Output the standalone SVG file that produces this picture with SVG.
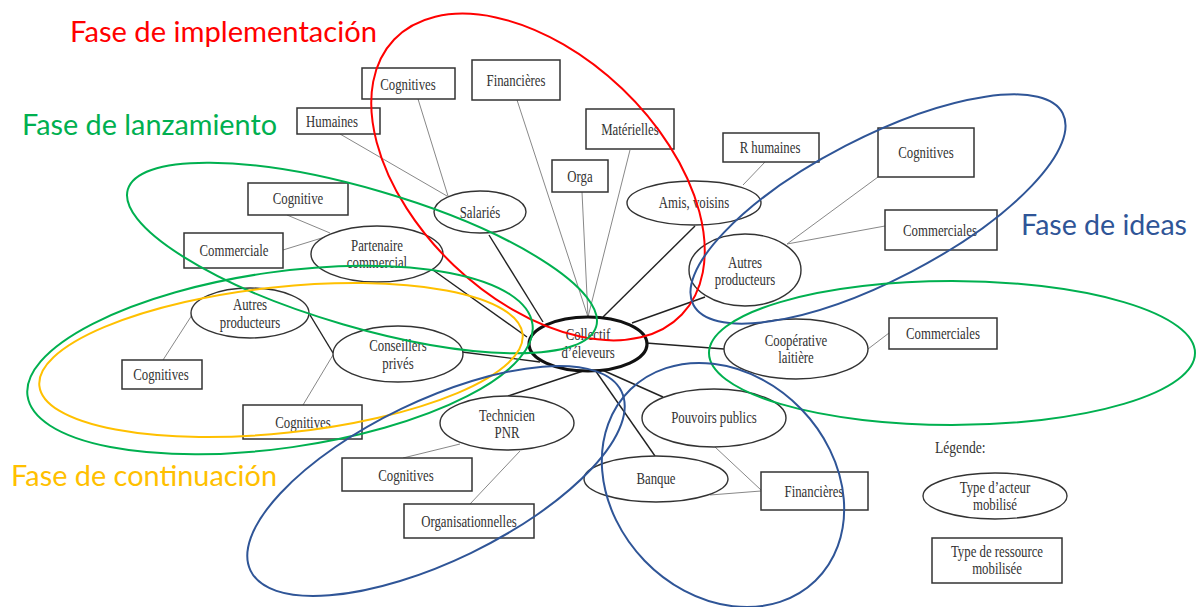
<svg xmlns="http://www.w3.org/2000/svg" width="1196" height="607" viewBox="0 0 1196 607">
<style>
.box{fill:#fff;stroke:#333;stroke-width:1.5}
.act{fill:#fff;stroke:#333;stroke-width:1.4}
.main{fill:#fff;stroke:#111;stroke-width:3.2}
.t{font-family:"Liberation Serif","Times New Roman",serif;font-size:16px;fill:#333;text-anchor:middle}
.lg{font-family:"Liberation Serif","Times New Roman",serif;font-size:17px;fill:#333}
.lk{stroke:#222;stroke-width:1.4}
.rl{stroke:#888;stroke-width:1}
.ph{fill:none;stroke-width:2}
.ttl{font-family:Lato,"Open Sans",sans-serif;font-size:29px}
</style>
<rect width="1196" height="607" fill="#fff"/>
<g id="connectors">
<line class="lk" x1="489" y1="235" x2="543" y2="322"/>
<line class="lk" x1="433" y1="270" x2="527" y2="337"/>
<line class="lk" x1="462" y1="352" x2="540" y2="362"/>
<line class="lk" x1="310" y1="315" x2="333" y2="353"/>
<line class="lk" x1="508" y1="396" x2="583" y2="371"/>
<line class="lk" x1="655" y1="456" x2="595" y2="370"/>
<line class="lk" x1="663" y1="397" x2="600" y2="369"/>
<line class="lk" x1="646" y1="343" x2="724" y2="349"/>
<line class="lk" x1="632" y1="323" x2="705" y2="297"/>
<line class="lk" x1="603" y1="317" x2="695" y2="226"/>
<line class="rl" x1="582" y1="192" x2="588" y2="317"/>
<line class="rl" x1="630" y1="150" x2="588" y2="317"/>
<line class="rl" x1="517" y1="100" x2="588" y2="317"/>
<line class="rl" x1="418" y1="99" x2="448" y2="196"/>
<line class="rl" x1="340" y1="134" x2="447" y2="196"/>
<line class="rl" x1="287" y1="215" x2="330" y2="233"/>
<line class="rl" x1="283" y1="250" x2="325" y2="237"/>
<line class="rl" x1="163" y1="360" x2="192" y2="315"/>
<line class="rl" x1="303" y1="405" x2="333" y2="355"/>
<line class="rl" x1="403" y1="458" x2="460" y2="444"/>
<line class="rl" x1="470" y1="504" x2="520" y2="451"/>
<line class="rl" x1="715" y1="447" x2="761" y2="490"/>
<line class="rl" x1="710" y1="495" x2="761" y2="491"/>
<line class="rl" x1="765" y1="162" x2="743" y2="185"/>
<line class="rl" x1="878" y1="177" x2="787" y2="244"/>
<line class="rl" x1="885" y1="226" x2="787" y2="244"/>
<line class="rl" x1="889" y1="333" x2="868" y2="349"/>
</g>
<g id="n-salaries"><ellipse class="act" cx="480" cy="212" rx="46" ry="21"/><text class="t" transform="translate(480 218) scale(.8 1)">Salariés</text></g>
<g id="n-partenaire"><ellipse class="act" cx="377" cy="254" rx="66" ry="28"/><text class="t" transform="translate(377 251) scale(.8 1)"><tspan x="0">Partenaire</tspan><tspan x="0" dy="17">commercial</tspan></text></g>
<g id="n-autres-gauche"><ellipse class="act" cx="250" cy="313" rx="59" ry="25"/><text class="t" transform="translate(250 310) scale(.8 1)"><tspan x="0">Autres</tspan><tspan x="0" dy="18">producteurs</tspan></text></g>
<g id="n-conseillers"><ellipse class="act" cx="398" cy="354" rx="65" ry="28"/><text class="t" transform="translate(398 351) scale(.8 1)"><tspan x="0">Conseillers</tspan><tspan x="0" dy="18">privés</tspan></text></g>
<g id="n-collectif"><ellipse class="main" cx="588" cy="344" rx="59" ry="27"/><text class="t" transform="translate(588 340) scale(.8 1)"><tspan x="0">Collectif</tspan><tspan x="0" dy="18">d’éleveurs</tspan></text></g>
<g id="n-amis"><ellipse class="act" cx="694" cy="203" rx="67" ry="22"/><text class="t" transform="translate(694 208) scale(.8 1)">Amis, voisins</text></g>
<g id="n-autres-droite"><ellipse class="act" cx="745" cy="270" rx="56" ry="36"/><text class="t" transform="translate(745 268) scale(.8 1)"><tspan x="0">Autres</tspan><tspan x="0" dy="17">producteurs</tspan></text></g>
<g id="n-cooperative"><ellipse class="act" cx="796" cy="349" rx="72" ry="30"/><text class="t" transform="translate(796 346) scale(.8 1)"><tspan x="0">Coopérative</tspan><tspan x="0" dy="17">laitière</tspan></text></g>
<g id="n-technicien"><ellipse class="act" cx="507" cy="423" rx="67" ry="27"/><text class="t" transform="translate(507 421) scale(.8 1)"><tspan x="0">Technicien</tspan><tspan x="0" dy="17">PNR</tspan></text></g>
<g id="n-pouvoirs"><ellipse class="act" cx="714" cy="418" rx="72" ry="29"/><text class="t" transform="translate(714 423) scale(.8 1)">Pouvoirs publics</text></g>
<g id="n-banque"><ellipse class="act" cx="656" cy="479" rx="72" ry="23"/><text class="t" transform="translate(656 484) scale(.8 1)">Banque</text></g>
<g id="r-cognitives-1"><rect class="box" x="362" y="68" width="93" height="31"/><text class="t" transform="translate(408 90) scale(.8 1)">Cognitives</text></g>
<g id="r-humaines"><rect class="box" x="297" y="108" width="83" height="26"/><text class="t" transform="translate(332 127) scale(.8 1)">Humaines</text></g>
<g id="r-financieres-1"><rect class="box" x="472" y="60" width="88" height="40"/><text class="t" transform="translate(516 86) scale(.8 1)">Financières</text></g>
<g id="r-materielles"><rect class="box" x="586" y="109" width="88" height="40"/><text class="t" transform="translate(630 135) scale(.8 1)">Matérielles</text></g>
<g id="r-orga"><rect class="box" x="552" y="160" width="56" height="32"/><text class="t" transform="translate(580 182) scale(.8 1)">Orga</text></g>
<g id="r-rhumaines"><rect class="box" x="723" y="133" width="96" height="29"/><text class="t" transform="translate(770 153) scale(.8 1)">R humaines</text></g>
<g id="r-cognitives-2"><rect class="box" x="878" y="128" width="96" height="49"/><text class="t" transform="translate(926 158) scale(.8 1)">Cognitives</text></g>
<g id="r-commerciales-1"><rect class="box" x="885" y="210" width="112" height="40"/><text class="t" transform="translate(940 236) scale(.8 1)">Commerciales</text></g>
<g id="r-commerciales-2"><rect class="box" x="889" y="318" width="108" height="31"/><text class="t" transform="translate(943 339) scale(.8 1)">Commerciales</text></g>
<g id="r-cognitive"><rect class="box" x="248" y="183" width="100" height="32"/><text class="t" transform="translate(298 204) scale(.8 1)">Cognitive</text></g>
<g id="r-commerciale"><rect class="box" x="184" y="233" width="99" height="35"/><text class="t" transform="translate(234 256) scale(.8 1)">Commerciale</text></g>
<g id="r-cognitives-3"><rect class="box" x="122" y="360" width="80" height="29"/><text class="t" transform="translate(161 380) scale(.8 1)">Cognitives</text></g>
<g id="r-cognitives-4"><rect class="box" x="243" y="405" width="119" height="34"/><text class="t" transform="translate(303 428) scale(.8 1)">Cognitives</text></g>
<g id="r-cognitives-5"><rect class="box" x="342" y="458" width="130" height="33"/><text class="t" transform="translate(406 481) scale(.8 1)">Cognitives</text></g>
<g id="r-organisationnelles"><rect class="box" x="404" y="504" width="130" height="34"/><text class="t" transform="translate(469 527) scale(.8 1)">Organisationnelles</text></g>
<g id="r-financieres-2"><rect class="box" x="761" y="472" width="107" height="38"/><text class="t" transform="translate(814 497) scale(.8 1)">Financières</text></g>
<g id="legend">
<text class="lg" transform="translate(935 453) scale(.8 1)">Légende:</text>
<ellipse class="act" cx="995" cy="496" rx="72" ry="23"/>
<text class="t" transform="translate(995 493) scale(.8 1)"><tspan x="0">Type d’acteur</tspan><tspan x="0" dy="17">mobilisé</tspan></text>
<rect class="box" x="932" y="538" width="130" height="45"/>
<text class="t" transform="translate(997 557) scale(.8 1)"><tspan x="0">Type de ressource</tspan><tspan x="0" dy="17">mobilisée</tspan></text>
</g>
<g id="phases">
<ellipse class="ph" stroke="#FF0000" cx="538" cy="177" rx="199" ry="122" transform="rotate(43.7 538 177)"/>
<ellipse class="ph" stroke="#00B050" cx="362" cy="258" rx="244" ry="69" transform="rotate(16.3 362 258)"/>
<ellipse class="ph" stroke="#00B050" cx="280" cy="360" rx="255" ry="88" transform="rotate(-8.1 280 360)"/>
<ellipse class="ph" stroke="#FFC000" cx="281" cy="360" rx="243" ry="73" transform="rotate(-6.1 281 360)"/>
<ellipse class="ph" stroke="#2F5597" cx="878" cy="209" rx="208" ry="71" transform="rotate(-27.4 878 209)"/>
<ellipse class="ph" stroke="#00B050" cx="952" cy="353" rx="243" ry="72"/>
<ellipse class="ph" stroke="#2F5597" cx="436" cy="481" rx="206" ry="80" transform="rotate(-25.8 436 481)"/>
<ellipse class="ph" stroke="#2F5597" cx="723" cy="485" rx="133" ry="109" transform="rotate(46 723 485)"/>
<text class="ttl" fill="#FF0000" x="70" y="42" textLength="307" lengthAdjust="spacingAndGlyphs">Fase de implementación</text>
<text class="ttl" fill="#00B050" x="22" y="135" textLength="255" lengthAdjust="spacingAndGlyphs">Fase de lanzamiento</text>
<text class="ttl" fill="#2F5597" x="1021" y="235" textLength="166" lengthAdjust="spacingAndGlyphs">Fase de ideas</text>
<text class="ttl" fill="#FFC000" x="11" y="486" textLength="266" lengthAdjust="spacingAndGlyphs">Fase de continuación</text>
</g>
</svg>
